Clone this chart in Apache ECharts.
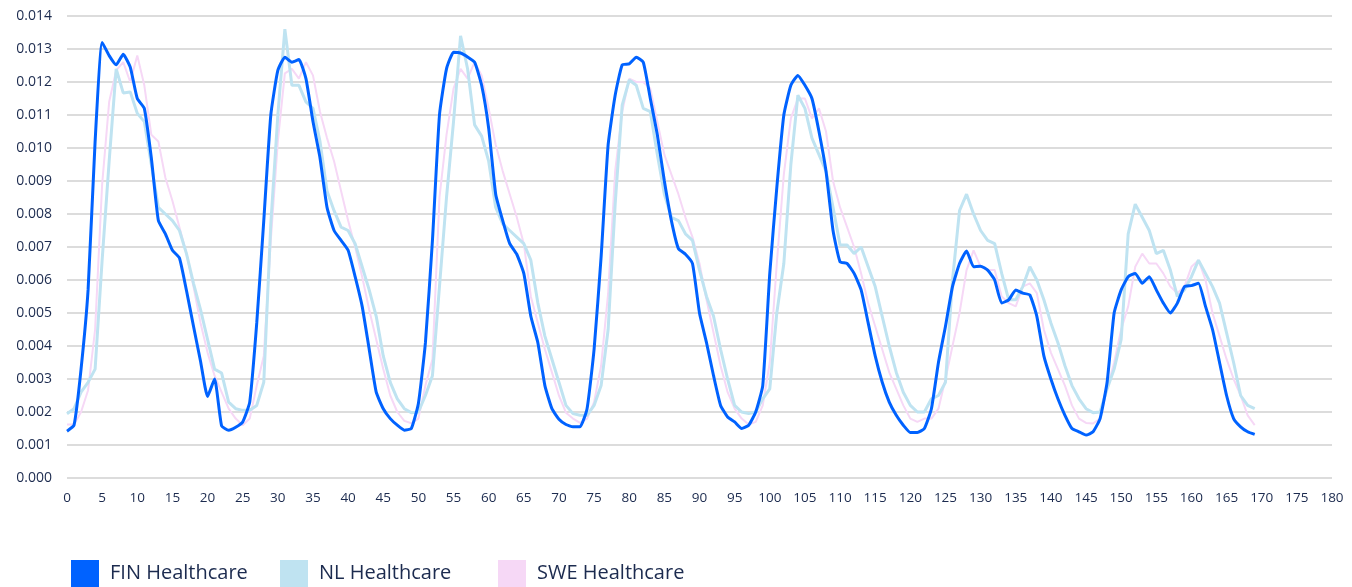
<!DOCTYPE html>
<html>
<head>
<meta charset="utf-8">
<script src="https://cdn.jsdelivr.net/npm/echarts@6/dist/echarts.min.js"></script>
<style>
  html, body { margin: 0; padding: 0; background: #fff; }
  #chart { width: 1352px; height: 587px; }
</style>
</head>
<body>
<div id="chart"></div>
<script>
// 图例名称
const seriesNames = ['FIN Healthcare', 'NL Healthcare', 'SWE Healthcare'];

// 每小时数值（从第 0 小时开始）
const finValues = [
  0.00142, 0.0016, 0.0033, 0.0057, 0.0102, 0.0132, 0.0128, 0.01252, 0.01284, 0.01245,
  0.0115, 0.0112, 0.0097, 0.0078, 0.0074, 0.0069, 0.00667, 0.00568, 0.0046, 0.00354,
  0.00247, 0.003, 0.00158, 0.00145, 0.00154, 0.0017, 0.0023, 0.0047, 0.0078, 0.011,
  0.01235, 0.01275, 0.0126, 0.01268, 0.0121, 0.0108, 0.0097, 0.0082, 0.0075, 0.0072,
  0.0069, 0.0061, 0.0052, 0.0039, 0.0026, 0.0021, 0.0018, 0.0016, 0.00145, 0.0015,
  0.00226, 0.0041, 0.0072, 0.011, 0.0124, 0.0129, 0.01288, 0.01276, 0.0126, 0.0119,
  0.0106, 0.0086, 0.0078, 0.0071, 0.00678, 0.0062, 0.0049, 0.0041, 0.0028, 0.0021,
  0.00178, 0.00162, 0.00155, 0.00155, 0.0021, 0.0039, 0.0067, 0.0101, 0.0116, 0.01252,
  0.01255, 0.01275, 0.0126, 0.0115, 0.0104, 0.009, 0.0078, 0.00695, 0.00678, 0.0065,
  0.005, 0.0041, 0.0031, 0.0022, 0.00185, 0.0017, 0.0015, 0.0016, 0.002, 0.0028,
  0.0062, 0.0088, 0.011, 0.0119, 0.0122, 0.0119, 0.0115, 0.0105, 0.0093, 0.0075,
  0.00655, 0.0065, 0.0062, 0.0057, 0.0047, 0.0037, 0.0029, 0.0023, 0.0019, 0.0016,
  0.00138, 0.00138, 0.0015, 0.0021, 0.0035, 0.0046, 0.0058, 0.0065, 0.00688, 0.0064,
  0.00642, 0.0063, 0.006, 0.0053, 0.0054, 0.0057, 0.0056, 0.00555, 0.0049, 0.0037,
  0.003, 0.0024, 0.0019, 0.0015, 0.0014, 0.0013, 0.0014, 0.0018, 0.0029, 0.005,
  0.0057, 0.0061, 0.0062, 0.0059, 0.0061, 0.0057, 0.0053, 0.005, 0.0053, 0.0058,
  0.00583, 0.0059, 0.0052, 0.0045, 0.0035, 0.0025, 0.0018, 0.00155, 0.0014, 0.00132
];
const nlValues = [
  0.00195, 0.0021, 0.0026, 0.0029, 0.0033, 0.0066, 0.0096, 0.0124, 0.01167, 0.0117,
  0.01105, 0.0108, 0.0095, 0.0082, 0.008, 0.0078, 0.0075, 0.0068, 0.0059, 0.0051,
  0.0042, 0.0033, 0.00318, 0.0023, 0.0021, 0.00205, 0.00205, 0.0022, 0.0029, 0.0077,
  0.011, 0.0136, 0.0119, 0.0119, 0.0114, 0.0112, 0.0102, 0.0087, 0.0081, 0.0076,
  0.0075, 0.0071, 0.0064, 0.0057, 0.0049, 0.0037, 0.0029, 0.0024, 0.0021, 0.00198,
  0.002, 0.0025, 0.0031, 0.0058, 0.0085, 0.0108, 0.0134, 0.0124, 0.0107, 0.01036,
  0.0096, 0.0082, 0.0077, 0.0075, 0.0073, 0.0071, 0.0066, 0.0053, 0.0043, 0.0036,
  0.0029, 0.0022, 0.00195, 0.0019, 0.0019, 0.0022, 0.0028, 0.0045, 0.0083, 0.0113,
  0.01206, 0.0119, 0.0112, 0.0111, 0.0098, 0.0086, 0.0079, 0.0078, 0.0074, 0.0072,
  0.0063, 0.0055, 0.0049, 0.0039, 0.003, 0.0022, 0.002, 0.00195, 0.002, 0.0024,
  0.0027, 0.005, 0.0065, 0.0095, 0.0116, 0.0112, 0.0103, 0.0098, 0.0093, 0.0082,
  0.00706, 0.00706, 0.0068, 0.007, 0.0064, 0.0058, 0.0049, 0.004, 0.0032, 0.0026,
  0.0022, 0.002, 0.002, 0.0024, 0.0025, 0.0029, 0.006, 0.0081, 0.0086, 0.008,
  0.0075, 0.0072, 0.0071, 0.0062, 0.0054, 0.0054, 0.0058, 0.0064, 0.006, 0.0054,
  0.0047, 0.0041, 0.0034, 0.0028, 0.0024, 0.0021, 0.00198, 0.002, 0.0027, 0.0033,
  0.0042, 0.0074, 0.0083, 0.0079, 0.0075, 0.0068, 0.0069, 0.0063, 0.0055, 0.0057,
  0.0061, 0.0066, 0.0062, 0.0058, 0.0053, 0.0044, 0.0035, 0.0025, 0.0022, 0.0021
];
const sweValues = [
  0.00162, 0.00162, 0.002, 0.00266, 0.0045, 0.0089, 0.0114, 0.01235, 0.0126, 0.012,
  0.0128, 0.0119, 0.0104, 0.0102, 0.0091, 0.0084, 0.0076, 0.0068, 0.0058, 0.0047,
  0.0038, 0.0031, 0.0026, 0.0021, 0.0018, 0.0016, 0.0018, 0.0028, 0.0037, 0.0072,
  0.0102, 0.01226, 0.0124, 0.0121, 0.0126, 0.0122, 0.0111, 0.0103, 0.0096, 0.0087,
  0.0078, 0.007, 0.0061, 0.0051, 0.0042, 0.0033, 0.0025, 0.002, 0.00173, 0.00166,
  0.0018, 0.0028, 0.0036, 0.0085, 0.0104, 0.0118, 0.0124, 0.0121, 0.0126, 0.0122,
  0.0112, 0.0101, 0.0093, 0.0086, 0.0079, 0.0071, 0.0055, 0.0047, 0.0039, 0.0032,
  0.0025, 0.00198, 0.0018, 0.00167, 0.0018, 0.0023, 0.0034, 0.0056, 0.0093, 0.0111,
  0.0121, 0.012, 0.012, 0.0118, 0.0108, 0.0098, 0.0092, 0.0086, 0.0079, 0.0073,
  0.0065, 0.0054, 0.0044, 0.0034, 0.0026, 0.0021, 0.0018, 0.00162, 0.0017, 0.0022,
  0.0035, 0.0065, 0.0092, 0.0109, 0.0115, 0.0115, 0.0109, 0.0112, 0.0105, 0.009,
  0.0082, 0.0076, 0.007, 0.0062, 0.0053, 0.0046, 0.0039, 0.0032, 0.0027, 0.0022,
  0.0018, 0.0017, 0.0018, 0.0018, 0.0021, 0.003, 0.004, 0.005, 0.0063, 0.0069,
  0.0064, 0.0063, 0.0063, 0.0055, 0.0053, 0.0052, 0.0058, 0.0059, 0.0056, 0.0045,
  0.0038, 0.0033, 0.0028, 0.0022, 0.0018, 0.00167, 0.00165, 0.0018, 0.0027, 0.0035,
  0.0045, 0.0052, 0.0064, 0.0068, 0.0065, 0.0065, 0.0062, 0.0058, 0.0056, 0.0058,
  0.0064, 0.0066, 0.006, 0.005, 0.0043, 0.0036, 0.003, 0.0025, 0.0019, 0.0016
];

const seriesColors = ['#0062ff', '#bfe3f1', '#f6d8f6'];
const labelColor = '#1c2b4f';
const fontFamily = '"Open Sans", "Noto Sans", sans-serif';

// 把数组下标当作横坐标（小时）
function toPoints(values) {
  return values.map((v, i) => [i, v]);
}

const chart = echarts.init(document.getElementById('chart'), null, { renderer: 'canvas' });

const legendBase = {
  top: 560,
  padding: 0,
  icon: 'rect',
  itemWidth: 28,
  itemHeight: 27,
  itemGap: 12,
  textStyle: { color: labelColor, fontSize: 20, fontFamily: fontFamily, padding: [0, 0, 0, 6] },
  selectedMode: false
};

chart.setOption({
  animation: false,
  color: seriesColors,
  grid: { left: 67, right: 20, top: 16, bottom: 109, containLabel: false },
  legend: [
    Object.assign({}, legendBase, { left: 71, data: [seriesNames[0]] }),
    Object.assign({}, legendBase, { left: 280, data: [seriesNames[1]] }),
    Object.assign({}, legendBase, { left: 498, data: [seriesNames[2]] })
  ],
  xAxis: {
    type: 'value',
    min: 0,
    max: 180,
    interval: 5,
    axisLine: { show: false },
    axisTick: { show: false },
    splitLine: { show: false },
    axisLabel: { color: labelColor, fontSize: 13.5, fontWeight: 500, fontFamily: fontFamily, margin: 13 }
  },
  yAxis: {
    type: 'value',
    min: 0,
    max: 0.014,
    interval: 0.001,
    axisLine: { show: false },
    axisTick: { show: false },
    splitLine: { lineStyle: { color: '#dcdcdc', width: 2 } },
    axisLabel: {
      color: labelColor,
      fontSize: 14,
      fontWeight: 500,
      fontFamily: fontFamily,
      margin: 15,
      formatter: v => v.toFixed(3)
    }
  },
  series: [
    {
      name: seriesNames[0],
      type: 'line',
      data: toPoints(finValues),
      showSymbol: false,
      smooth: 0.15,
      z: 4,
      lineStyle: { width: 3, color: seriesColors[0] }
    },
    {
      name: seriesNames[1],
      type: 'line',
      data: toPoints(nlValues),
      showSymbol: false,
      z: 3,
      lineStyle: { width: 3, color: seriesColors[1] }
    },
    {
      name: seriesNames[2],
      type: 'line',
      data: toPoints(sweValues),
      showSymbol: false,
      z: 2,
      lineStyle: { width: 2, color: seriesColors[2] }
    }
  ]
});
</script>
</body>
</html>
